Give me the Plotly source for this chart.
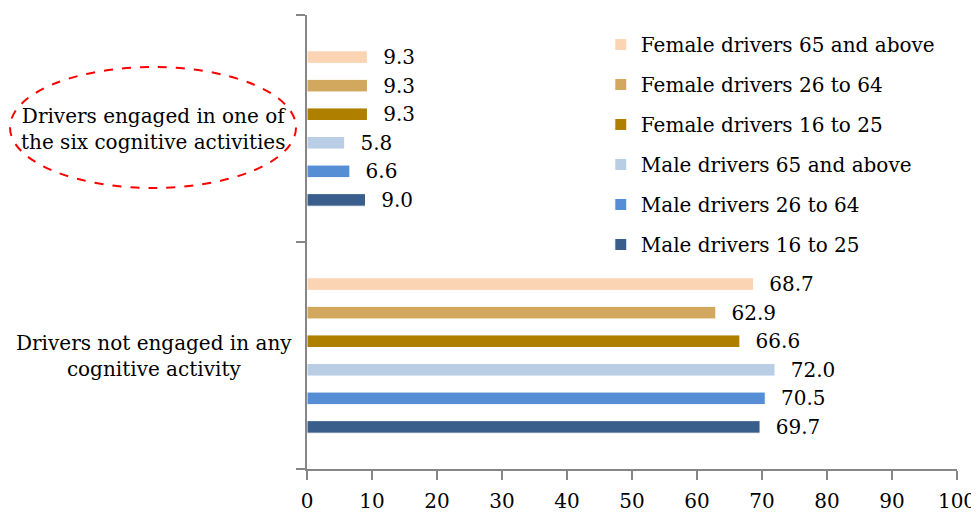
import plotly.graph_objects as go

categories = ["Drivers not engaged in any cognitive activity",
              "Drivers engaged in one of the six cognitive activities"]
category_labels = ["Drivers not engaged in any<br>cognitive activity",
                   "Drivers engaged in one of<br>the six cognitive activities"]
series_names = ["Male drivers 16 to 25", "Male drivers 26 to 64", "Male drivers 65 and above",
                "Female drivers 16 to 25", "Female drivers 26 to 64", "Female drivers 65 and above"]
male_16_25 = [69.7, 9.0]
male_26_64 = [70.5, 6.6]
male_65_up = [72.0, 5.8]
female_16_25 = [66.6, 9.3]
female_26_64 = [62.9, 9.3]
female_65_up = [68.7, 9.3]
series_values = [male_16_25, male_26_64, male_65_up, female_16_25, female_26_64, female_65_up]
colors = ["#3A5E8B", "#558ED5", "#B9CDE5", "#AF7F00", "#D1A85E", "#FBD4B4"]
x_ticks = [0, 10, 20, 30, 40, 50, 60, 70, 80, 90, 100]

FONT = "DejaVu Serif"
FS = 20
fig = go.Figure()
n = len(series_names)
for i, (name, vals, col) in enumerate(zip(series_names, series_values, colors)):
    fig.add_trace(go.Bar(
        y=categories, x=vals, name=name, orientation="h",
        marker=dict(color=col, line=dict(color="white", width=1)),
        text=[f"{v:.1f}" for v in vals], textposition="outside",
        texttemplate="  %{text}", cliponaxis=False, constraintext="none",
        textfont=dict(family=FONT, size=FS, color="black"),
        legendgroup=f"g{i}", legendrank=n - i,
    ))

# page body adds an 8px margin, so the figure is sized to fit the 979x519 window
fig.update_layout(
    width=971, height=511,
    barmode="group", bargap=0.245, bargroupgap=0.56,
    plot_bgcolor="white", paper_bgcolor="white",
    margin=dict(l=299, r=22, t=7, b=50, autoexpand=False),
    font=dict(family=FONT, size=FS, color="black"),
    showlegend=True,
    legend=dict(x=0.452, y=0.978, xanchor="left", yanchor="top",
                traceorder="grouped", tracegroupgap=11,
                font=dict(family=FONT, size=FS), bgcolor="rgba(0,0,0,0)"),
    xaxis=dict(range=[0, 100], tickvals=x_ticks, showgrid=False, zeroline=False,
               showline=True, linecolor="#868686", linewidth=2,
               ticks="outside", ticklen=9, tickcolor="#868686", tickwidth=2,
               tickfont=dict(family=FONT, size=FS), ticklabelstandoff=4),
    yaxis=dict(categoryorder="array", categoryarray=categories,
               showticklabels=False, showgrid=False, zeroline=False,
               showline=True, linecolor="#868686", linewidth=2,
               ticks="outside", ticklen=9, tickcolor="#868686", tickwidth=2,
               tickson="boundaries"),
)

for cat, lab in zip(categories, category_labels):
    fig.add_annotation(x=-0.236, xref="paper", y=cat, yref="y", text=lab,
                       showarrow=False, xanchor="center", yanchor="middle", align="center",
                       font=dict(family=FONT, size=FS, color="black"))

fig.add_shape(type="circle", xref="paper", yref="paper",
              x0=(10 - 307) / 650, x1=(296 - 307) / 650,
              y0=(469 - 188) / 454, y1=(469 - 67) / 454,
              line=dict(color="#FF0000", width=2, dash="dash"))

fig.write_html("out.html")
